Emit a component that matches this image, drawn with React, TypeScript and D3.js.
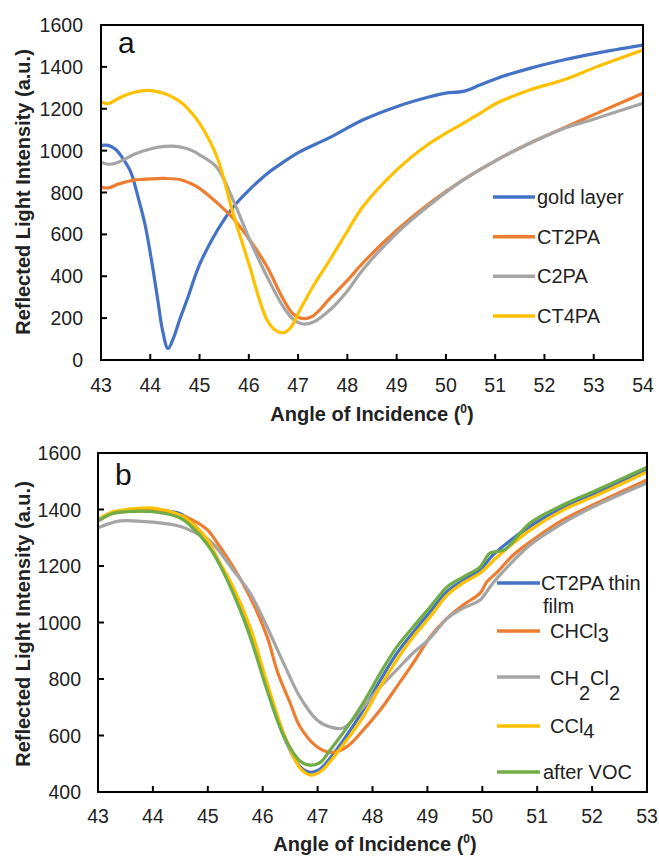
import React from "react";
import * as d3 from "d3";

type Pt = [number, number];

// panel a: angle (deg), intensity (a.u.)
const goldLayer: Pt[] = [[43,1025],[43.15,1025],[43.3,1005],[43.45,960],[43.6,900],[43.75,780],[43.9,640],[44.05,440],[44.15,290],[44.25,140],[44.36,55],[44.47,105],[44.6,195],[44.75,290],[45.0,455],[45.35,615],[45.68,730],[46.02,815],[46.37,890],[46.7,945],[47.04,995],[47.65,1063],[48.31,1146],[49.0,1210],[49.67,1257],[50.0,1275],[50.35,1283],[50.69,1313],[51.03,1345],[51.7,1393],[52.38,1433],[53.06,1466],[54,1504]];
const ct2pa: Pt[] = [[43,826],[43.15,822],[43.35,840],[43.7,860],[44.0,865],[44.3,867],[44.6,862],[44.8,845],[45.0,820],[45.35,752],[45.68,677],[46.02,573],[46.37,445],[46.7,290],[46.9,220],[47.1,198],[47.3,210],[47.65,295],[48.0,380],[48.31,462],[49.0,620],[49.67,749],[50.35,860],[51.03,955],[51.7,1035],[52.38,1107],[53.06,1178],[54,1274]];
const c2pa: Pt[] = [[43,945],[43.15,935],[43.35,945],[43.7,985],[44.0,1008],[44.3,1020],[44.6,1018],[44.85,1000],[45.0,980],[45.35,920],[45.68,765],[46.02,573],[46.37,398],[46.7,254],[46.9,195],[47.1,172],[47.3,180],[47.65,240],[48.0,330],[48.31,430],[49.0,605],[49.67,740],[50.35,860],[51.03,955],[51.7,1035],[52.38,1105],[53.06,1155],[54,1226]];
const ct4pa: Pt[] = [[43,1232],[43.15,1225],[43.4,1255],[43.7,1280],[43.95,1288],[44.3,1272],[44.5,1250],[44.67,1222],[45.0,1130],[45.35,972],[45.68,700],[46.02,445],[46.2,300],[46.37,191],[46.55,140],[46.7,130],[46.85,155],[47.04,240],[47.3,350],[47.65,480],[48.0,615],[48.31,731],[49.0,907],[49.67,1035],[50.0,1083],[50.35,1130],[50.69,1178],[51.03,1226],[51.7,1290],[52.38,1337],[53.06,1400],[54,1480]];

// panel b
const thinFilm: Pt[] = [[43,1360],[43.25,1388],[43.5,1395],[44.0,1398],[44.5,1385],[44.75,1345],[45.0,1285],[45.16,1230],[45.46,1115],[45.77,965],[46.08,775],[46.38,600],[46.68,490],[46.87,470],[47.05,482],[47.23,520],[47.53,600],[47.83,690],[48.14,795],[48.44,890],[48.74,965],[49.05,1038],[49.36,1110],[49.65,1150],[49.96,1186],[50.2,1240],[50.87,1340],[51.47,1407],[52.09,1460],[53,1540]];
const chcl3: Pt[] = [[43,1360],[43.25,1385],[43.5,1392],[44.0,1395],[44.5,1380],[44.75,1360],[45.0,1327],[45.16,1285],[45.46,1197],[45.77,1090],[46.08,950],[46.27,825],[46.5,715],[46.68,631],[46.99,560],[47.25,540],[47.53,560],[47.83,619],[48.14,690],[48.44,772],[48.74,856],[49.05,949],[49.36,1015],[49.65,1062],[49.96,1104],[50.08,1143],[50.27,1178],[50.56,1238],[50.87,1285],[51.47,1363],[52.09,1423],[53,1505]];
const ch2cl2: Pt[] = [[43,1335],[43.2,1350],[43.4,1360],[44.0,1355],[44.5,1340],[44.8,1315],[45.0,1295],[45.16,1264],[45.46,1186],[45.77,1104],[46.08,984],[46.38,856],[46.68,736],[46.99,655],[47.23,630],[47.47,627],[47.83,700],[48.14,772],[48.44,832],[48.74,892],[49.05,945],[49.36,1015],[49.65,1051],[49.96,1080],[50.14,1126],[50.27,1157],[50.87,1274],[51.47,1352],[52.09,1416],[53,1494]];
const ccl4: Pt[] = [[43,1365],[43.25,1390],[43.5,1400],[44.0,1405],[44.5,1380],[44.75,1345],[45.0,1292],[45.16,1232],[45.46,1126],[45.77,984],[46.08,786],[46.38,609],[46.68,485],[46.87,460],[47.05,472],[47.23,508],[47.53,584],[47.83,666],[48.14,772],[48.44,867],[48.74,949],[49.05,1020],[49.36,1097],[49.65,1140],[49.96,1175],[50.27,1232],[50.87,1327],[51.47,1398],[52.09,1451],[53,1533]];
const afterVoc: Pt[] = [[43,1360],[43.25,1385],[43.5,1392],[44.0,1392],[44.5,1370],[44.75,1330],[45.0,1274],[45.16,1225],[45.46,1105],[45.77,950],[46.08,760],[46.38,600],[46.68,510],[46.87,495],[47.05,505],[47.23,549],[47.53,627],[47.83,715],[48.14,820],[48.44,913],[48.74,984],[49.05,1055],[49.36,1126],[49.65,1161],[49.96,1197],[50.14,1246],[50.4,1257],[50.87,1352],[51.47,1416],[52.09,1469],[53,1550]];

const xTicksA = d3.range(43, 55);
const yTicksA = d3.range(0, 1601, 200);
const xTicksB = d3.range(43, 54);
const yTicksB = d3.range(400, 1601, 200);

const BLUE = "#4472c4", ORANGE = "#ed7d31", GRAY = "#a5a5a5", YELLOW = "#ffc000", GREEN = "#70ad47";
const FONT = "'Liberation Sans', Arial, sans-serif";

interface Series { data: Pt[]; color: string; }

function Panel(props: {
  left: number; right: number; top: number; bottom: number;
  xDomain: [number, number]; yDomain: [number, number];
  xTicks: number[]; yTicks: number[];
  series: Series[]; tag: string; tagY: number;
  xLabelY: number; xTitleY: number; xTitleX: number; yTitleY: number; yLabelX: number;
  children?: React.ReactNode;
}) {
  const { left, right, top, bottom } = props;
  const x = d3.scaleLinear().domain(props.xDomain).range([left, right]);
  const y = d3.scaleLinear().domain(props.yDomain).range([bottom, top]);
  const line = d3.line<Pt>().x(d => x(d[0])).y(d => y(d[1])).curve(d3.curveCatmullRom.alpha(0.5));
  return (
    <g fontFamily={FONT}>
      <defs>
        <clipPath id={"clip" + props.tag}>
          <rect x={left} y={top} width={right - left} height={bottom - top} />
        </clipPath>
      </defs>
      <g clipPath={`url(#clip${props.tag})`}>
        {props.series.map((s, i) => (
          <path key={i} d={line(s.data) || ""} fill="none" stroke={s.color} strokeWidth={3.2} strokeLinejoin="round" />
        ))}
      </g>
      <rect x={left} y={top} width={right - left} height={bottom - top} fill="none" stroke="#000" strokeWidth={2} />
      {props.xTicks.map(t => (
        <g key={"x" + t}>
          <line x1={x(t)} x2={x(t)} y1={bottom} y2={bottom - 6} stroke="#000" strokeWidth={2} />
          <text x={x(t)} y={props.xLabelY} textAnchor="middle" fontSize={19.5} fill="#222">{t}</text>
        </g>
      ))}
      {props.yTicks.map(t => (
        <g key={"y" + t}>
          <line x1={left} x2={left + 6} y1={y(t)} y2={y(t)} stroke="#000" strokeWidth={2} />
          <text x={props.yLabelX} y={y(t)} dy="0.36em" textAnchor="end" fontSize={19.5} fill="#222">{t}</text>
        </g>
      ))}
      <text x={left + 17} y={props.tagY} fontSize={30} fill="#111">{props.tag}</text>
      <text x={props.xTitleX} y={props.xTitleY} textAnchor="middle" fontSize={20} fontWeight="bold" fill="#222">
        Angle of Incidence (<tspan fontSize={12} dy={-8}>0</tspan><tspan dy={8}>)</tspan>
      </text>
      <text transform={`translate(30,${props.yTitleY}) rotate(-90)`} textAnchor="middle" fontSize={20} fontWeight="bold" fill="#222">
        Reflected Light Intensity (a.u.)
      </text>
      {props.children}
    </g>
  );
}

function LegendLine(p: { y: number; x1: number; x2: number; color: string }) {
  return <line x1={p.x1} x2={p.x2} y1={p.y} y2={p.y} stroke={p.color} strokeWidth={3.5} />;
}

export default function App() {
  const legA = [
    { label: "gold layer", color: BLUE },
    { label: "CT2PA", color: ORANGE },
    { label: "C2PA", color: GRAY },
    { label: "CT4PA", color: YELLOW },
  ];
  const legY = d3.scalePoint<string>().domain(legA.map(d => d.label)).range([197, 316]);
  return (
    <svg width={659} height={859} style={{ position: "absolute", left: 0, top: 0, background: "#fff" }}>
      <Panel left={101} right={643} top={25} bottom={360} xDomain={[43, 54]} yDomain={[0, 1600]}
        xTicks={xTicksA} yTicks={yTicksA} tag="a" tagY={53}
        xLabelY={392} xTitleY={421} xTitleX={372} yTitleY={192} yLabelX={83}
        series={[{ data: goldLayer, color: BLUE }, { data: ct2pa, color: ORANGE }, { data: c2pa, color: GRAY }, { data: ct4pa, color: YELLOW }]}>
        <g fontSize={20} fill="#222">
          {legA.map(d => (
            <g key={d.label}>
              <LegendLine y={legY(d.label)!} x1={493} x2={535} color={d.color} />
              <text x={537} y={legY(d.label)! + 7}>{d.label}</text>
            </g>
          ))}
        </g>
      </Panel>
      <Panel left={98} right={647} top={453} bottom={792} xDomain={[43, 53]} yDomain={[400, 1600]}
        xTicks={xTicksB} yTicks={yTicksB} tag="b" tagY={485}
        xLabelY={823} xTitleY={851} xTitleX={375} yTitleY={624} yLabelX={81}
        series={[{ data: thinFilm, color: BLUE }, { data: chcl3, color: ORANGE }, { data: ch2cl2, color: GRAY }, { data: ccl4, color: YELLOW }, { data: afterVoc, color: GREEN }]}>
        <g fontSize={20} fill="#222">
          <LegendLine y={583} x1={497} x2={540} color={BLUE} />
          <text x={541} y={590}>CT2PA thin</text>
          <text x={543} y={613}>film</text>
          <LegendLine y={631} x1={497} x2={540} color={ORANGE} />
          <text x={550} y={638}>CHCl<tspan dy={4}>3</tspan></text>
          <LegendLine y={677} x1={497} x2={540} color={GRAY} />
          <text x={550} y={685}>CH<tspan dy={15}>2</tspan><tspan dy={-15}>Cl</tspan><tspan dy={15}>2</tspan></text>
          <LegendLine y={726} x1={497} x2={540} color={YELLOW} />
          <text x={550} y={733}>CCl<tspan dy={5}>4</tspan></text>
          <LegendLine y={772} x1={497} x2={540} color={GREEN} />
          <text x={543} y={779}>after VOC</text>
        </g>
      </Panel>
    </svg>
  );
}
